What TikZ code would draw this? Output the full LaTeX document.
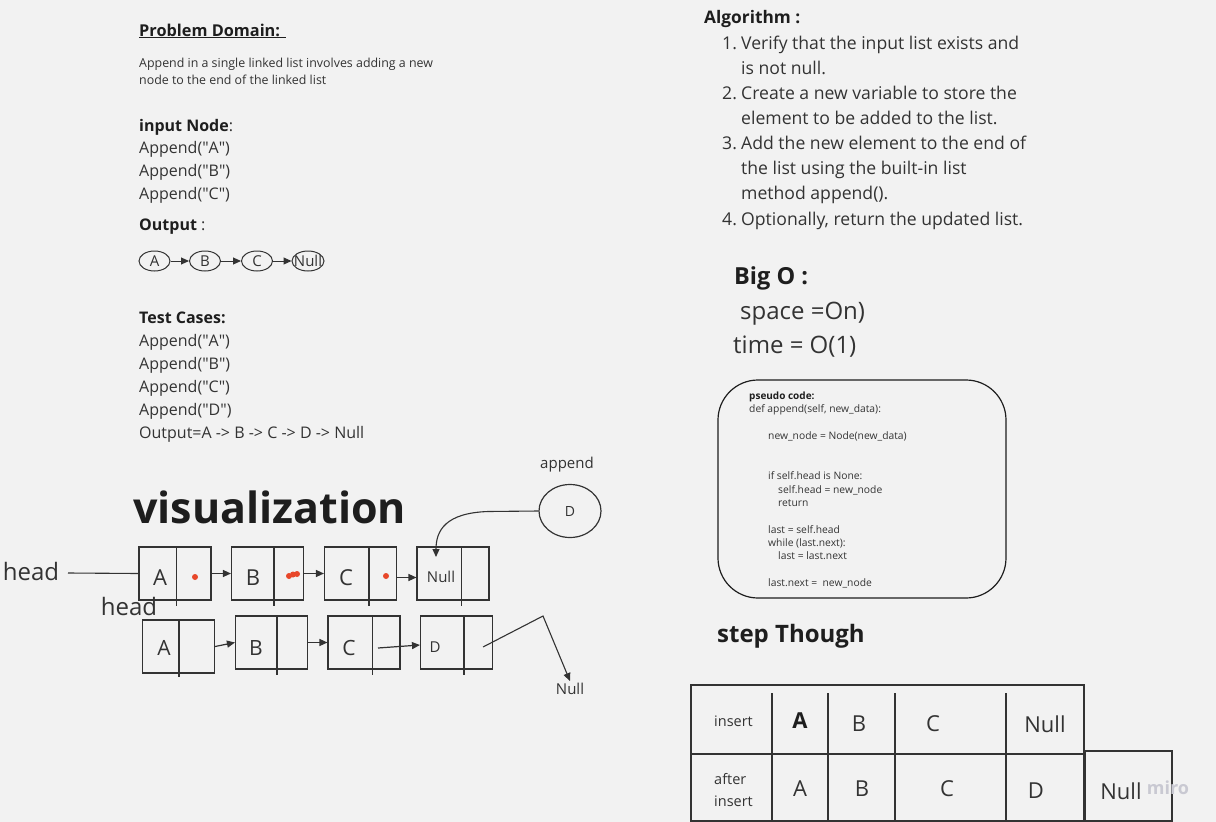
\documentclass[tikz,border=0pt]{standalone}
\usepackage{fontspec}
\setmainfont{Open Sans}
\usetikzlibrary{calc,arrows.meta,shapes.geometric}
\definecolor{bg}{HTML}{F2F2F2}
\definecolor{ink}{HTML}{333333}
\definecolor{dark}{HTML}{1E1E1E}
\definecolor{dotred}{HTML}{E8472A}
\definecolor{wm}{HTML}{C9C9D2}
\newcommand\fsz[1]{\fontsize{#1}{#1}\selectfont}
\newcommand\sq{\textquotedbl}
\begin{document}
\begin{tikzpicture}[x=1pt,y=-1pt,
  txt/.style={anchor=base west,inner sep=0,text=ink},
  ctxt/.style={anchor=center,inner sep=0,text=ink},
  llbox/.style={draw=ink,line width=1.1pt,minimum width=72pt,minimum height=53pt,inner sep=0},
  oval/.style={draw=ink,line width=1pt,ellipse,minimum width=31pt,minimum height=20pt,inner sep=0,text=ink,font=\fsz{15}},
  link/.style={draw=ink,line width=1.2pt,-{Triangle[length=8pt,width=7pt]}},
  plain/.style={draw=ink,line width=1.1pt},
  divider/.style={draw=ink,line width=1.1pt},
  tbl/.style={draw=ink,line width=1.1pt}
]
\fill[bg] (0,0) rectangle (1216,822);
\useasboundingbox (0,0) rectangle (1216,822);

% ---------- Problem domain ----------
\node[txt,text=dark,font=\fsz{16.3}] (pd) at (139,36) {\underline{\textbf{Problem Domain: }}};
\node[txt,font=\fsz{12.4}] (pd1) at (139,67) {Append in a single linked list involves adding a new};
\node[txt,font=\fsz{12.4}] (pd2) at (139,84) {node to the end of the linked list};

\node[txt,font=\fsz{16}] (in) at (139,131) {\textbf{\color{dark}input Node}:};
\node[txt,font=\fsz{16}] (in1) at (139,153) {Append(\sq A\sq)};
\node[txt,font=\fsz{16}] (in2) at (139,176) {Append(\sq B\sq)};
\node[txt,font=\fsz{16}] (in3) at (139,199) {Append(\sq C\sq)};

\node[txt,font=\fsz{16}] (out) at (139,230) {\textbf{\color{dark}Output} :};

\node[oval] (oa) at (154.5,261) {A};
\node[oval] (ob) at (205,261) {B};
\node[oval] (oc) at (257,261) {C};
\node[oval,minimum width=32pt] (on) at (308,261) {\makebox[0pt]{Null}};
\draw[link,line width=1pt] (oa) -- (ob);
\draw[link,line width=1pt] (ob) -- (oc);
\draw[link,line width=1pt] (oc) -- (on);

\node[txt,font=\fsz{16}] (tc) at (139,323) {\textbf{\color{dark}Test Cases:}};
\node[txt,font=\fsz{16}] (tc1) at (139,346) {Append(\sq A\sq)};
\node[txt,font=\fsz{16}] (tc2) at (139,369) {Append(\sq B\sq)};
\node[txt,font=\fsz{16}] (tc3) at (139,392) {Append(\sq C\sq)};
\node[txt,font=\fsz{16}] (tc4) at (139,415) {Append(\sq D\sq)};
\node[txt,font=\fsz{16}] (tc5) at (139,438) {Output=A -> B -> C -> D -> Null};

% ---------- visualization ----------
\node[txt,text=dark,font=\fsz{43}\bfseries] (vis) at (133,523) {visualization};
\node[ctxt,font=\fsz{15}] (appl) at (567,465) {append};
\node[draw=ink,line width=1.2pt,ellipse,minimum width=62pt,minimum height=53pt,inner sep=0,text=ink,font=\fsz{14}] (dc) at (570,511) {D};

\node[ctxt,font=\fsz{24}] (head1) at (31,571) {head};
\node[ctxt,font=\fsz{24}] (head2) at (129,606) {head};

% top row
\node[llbox] (a1) at (175,573.5) {};
\node[llbox] (b1) at (267.5,573.5) {};
\node[llbox] (c1) at (360.5,573.5) {};
\node[llbox] (n1) at (453,573.5) {};
\draw[divider] ($(a1.north west)+(38,0)$) -- ($(a1.south west)+(38,5)$);
\draw[divider] ($(b1.north west)+(43,0)$) -- ($(b1.south west)+(43,5)$);
\draw[divider] ($(c1.north west)+(45,0)$) -- ($(c1.south west)+(45,5)$);
\draw[divider] ($(n1.north west)+(45,0)$) -- ($(n1.south west)+(45,5)$);
\node[ctxt,font=\fsz{22}] (la1) at (160,578) {A};
\node[ctxt,font=\fsz{22}] (lb1) at (253,578) {B};
\node[ctxt,font=\fsz{22}] (lc1) at (346,578) {C};
\node[ctxt,font=\fsz{15}] (ln1) at (441,577) {Null};
\fill[dotred] (195,577) circle (3);
\fill[dotred] (289,576) circle (3);
\fill[dotred] (293,574.5) circle (3);
\fill[dotred] (297,574) circle (3);
\fill[dotred] (386,576) circle (3);

\coordinate (hstart) at (68,573);
\draw[plain] (hstart) -- (a1.west);
\draw[link] (a1.east) -- (b1.west);
\draw[link] (b1.east) -- (c1.west);
\draw[link] ([yshift=-4pt]c1.east) -- ([yshift=-4pt]n1.west);

\coordinate (nulltip) at (436,557);
\draw[link,line width=1.1pt] (dc.west) -- (488,511.5) .. controls (446,513) and (436,530) .. (nulltip);

% bottom row
\node[llbox] (a2) at (178.5,646.5) {};
\node[llbox] (b2) at (271.5,642.5) {};
\node[llbox] (c2) at (364,642.5) {};
\node[llbox] (d2) at (456.5,642.5) {};
\draw[divider] ($(a2.north west)+(37,0)$) -- ($(a2.south west)+(37,3)$);
\draw[divider] ($(b2.north west)+(42,0)$) -- ($(b2.south west)+(42,5)$);
\draw[divider] ($(c2.north west)+(45,0)$) -- ($(c2.south west)+(45,5)$);
\draw[divider] ($(d2.north west)+(44,0)$) -- ($(d2.south west)+(44,5)$);
\node[ctxt,font=\fsz{21}] (la2) at (164,648) {A};
\node[ctxt,font=\fsz{21}] (lb2) at (256,648) {B};
\node[ctxt,font=\fsz{21}] (lc2) at (349,648) {C};
\node[ctxt,font=\fsz{15}] (ld2) at (435,647) {D};
\draw[link] (a2.east) -- (b2.west);
\draw[link] (b2.east) -- (c2.west);
\coordinate (cstart) at (378,648);
\draw[link] (cstart) -- ([yshift=-2.5pt]d2.west);
\node[ctxt,font=\fsz{15}] (nullb) at (570,689) {Null};
\coordinate (dstart) at (483,647);
\coordinate (bend) at (543,616);
\draw[link,line width=1.1pt] (dstart) -- (bend) -- ([yshift=2pt]nullb.north);

% ---------- Algorithm ----------
\node[txt,text=dark,font=\fsz{17.3}\bfseries] (alg) at (704,23) {Algorithm :};
\node[txt,font=\fsz{17.6}] (n1a) at (722,49) {1.};
\node[txt,font=\fsz{17.6}] (s1a) at (741,49) {Verify that the input list exists and};
\node[txt,font=\fsz{17.6}] (s1b) at (741,74) {is not null.};
\node[txt,font=\fsz{17.6}] (n2a) at (722,99) {2.};
\node[txt,font=\fsz{17.6}] (s2a) at (741,99) {Create a new variable to store the};
\node[txt,font=\fsz{17.6}] (s2b) at (741,124) {element to be added to the list.};
\node[txt,font=\fsz{17.6}] (n3a) at (722,149) {3.};
\node[txt,font=\fsz{17.6}] (s3a) at (741,149) {Add the new element to the end of};
\node[txt,font=\fsz{17.6}] (s3b) at (741,174) {the list using the built-in list};
\node[txt,font=\fsz{17.6}] (s3c) at (741,199) {method append().};
\node[txt,font=\fsz{17.6}] (n4a) at (722,225) {4.};
\node[txt,font=\fsz{17.6}] (s4a) at (741,225) {Optionally, return the updated list.};

% ---------- Big O ----------
\node[txt,text=dark,font=\fsz{23.5}\bfseries] (bigo) at (734,284) {Big O :};
\node[txt,font=\fsz{24}] (space) at (740,319) {space =On)};
\node[txt,font=\fsz{24}] (time) at (733,353) {time = O(1)};

% ---------- pseudo code ----------
\draw[draw=dark,line width=1.2pt,rounded corners=40pt] (718,380) rectangle (1006,598);
\node[txt,text=dark,font=\fsz{10}\bfseries] (pc0) at (749,399) {pseudo code:};
\node[txt,font=\fsz{10.3}] (pc1) at (749,412) {def append(self, new\_data):};
\node[txt,font=\fsz{10.3}] (pc2) at (768,439) {new\_node = Node(new\_data)};
\node[txt,font=\fsz{10.3}] (pc3) at (768,479) {if self.head is None:};
\node[txt,font=\fsz{10.3}] (pc4) at (778,493) {self.head = new\_node};
\node[txt,font=\fsz{10.3}] (pc5) at (778,506) {return};
\node[txt,font=\fsz{10.3}] (pc6) at (768,533) {last = self.head};
\node[txt,font=\fsz{10.3}] (pc7) at (768,546) {while (last.next):};
\node[txt,font=\fsz{10.3}] (pc8) at (778,559) {last = last.next};
\node[txt,font=\fsz{10.3}] (pc9) at (768,586) {last.next = \ new\_node};

% ---------- step table ----------
\node[txt,text=dark,font=\fsz{24}\bfseries] (step) at (717,642) {step Though};
\draw[tbl] (691,685) rectangle (1084,821);
\draw[tbl] (691,754) -- (1084,754);
\foreach \xx in {772,828,895,1006}{
  \draw[tbl] (\xx,693) -- (\xx,754);
  \draw[tbl] (\xx,754) -- (\xx,821);
}
\draw[tbl] (1085,751) rectangle (1172,821);
\node[txt,font=\fsz{14.5}] (t1) at (714,726) {insert};
\node[ctxt,text=dark,font=\fsz{22}\bfseries] (t2) at (800,721) {A};
\node[ctxt,font=\fsz{22}] (t3) at (859,724) {B};
\node[ctxt,font=\fsz{22}] (t4) at (933,724) {C};
\node[ctxt,font=\fsz{22}] (t5) at (1045,724) {Null};
\node[txt,font=\fsz{14.5}] (t6) at (714,784) {after};
\node[txt,font=\fsz{14.5}] (t7) at (714,806) {insert};
\node[ctxt,font=\fsz{22}] (t8) at (800,789) {A};
\node[ctxt,font=\fsz{22}] (t9) at (862,789) {B};
\node[ctxt,font=\fsz{22}] (t10) at (947,789) {C};
\node[ctxt,font=\fsz{22}] (t11) at (1036,791) {D};
\node[ctxt,font=\fsz{22}] (t12) at (1121,791) {Null};
\node[ctxt,text=wm,font=\fsz{18}\bfseries] (miro) at (1168,788) {miro};
\end{tikzpicture}
\end{document}
